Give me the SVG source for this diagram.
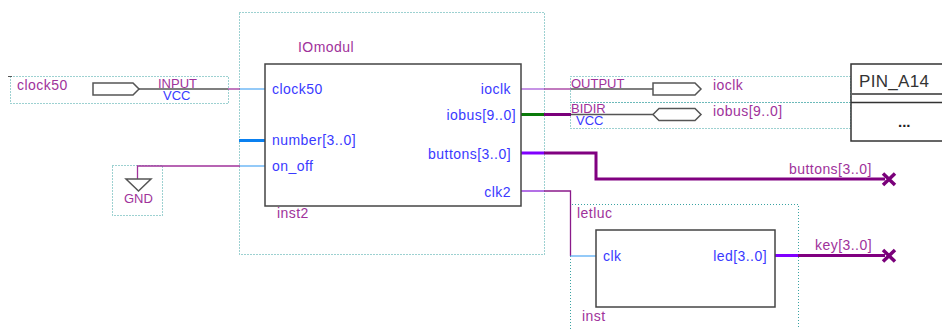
<svg xmlns="http://www.w3.org/2000/svg" width="942" height="329" viewBox="0 0 942 329">
<style>
text{font-family:"Liberation Sans",Arial,sans-serif;font-size:14px;letter-spacing:.45px}
text.c{font-size:13px;letter-spacing:0}
.m{fill:#a0329b}
.b{fill:#3a3aff}
.d{fill:none;stroke:#3aa3a3;stroke-width:1;stroke-dasharray:1 2}
.box{fill:#fff;stroke:#444;stroke-width:1.5}
.sym{fill:#fff;stroke:#555;stroke-width:1.5}
.w{fill:none;stroke-width:1.3}
.bus{fill:none;stroke-width:3}
.x{fill:none;stroke:#7a007a;stroke-width:3.5}
</style>
<rect width="942" height="329" fill="#fff"/>
<g id="frames">
<rect class="d" x="10.500" y="76.500" width="218" height="27"/>
<rect class="d" x="112.500" y="165.500" width="50" height="50"/>
<rect class="d" x="239.500" y="12.500" width="305" height="242"/>
<rect class="d" x="570.500" y="76.500" width="280" height="26"/>
<rect class="d" x="570.500" y="102.500" width="280" height="26"/>
<path class="d" d="M570.500 329V204.500H798.500V329"/>
</g>
<g id="connectors">
<path d="M8 76.500h4" stroke="#555" stroke-width="1" fill="none"/>
<path class="w" stroke="#555" d="M139 89H228"/>
<path class="w" stroke="#a0329b" d="M228 89H240"/>
<path class="w" stroke="#5aaef5" d="M240 89H265"/>
<path class="bus" stroke="#0a80f0" d="M239 140.500H266"/>
<path class="w" stroke="#a0329b" d="M137.500 179V166H240"/>
<path class="w" stroke="#5aaef5" d="M240 166H265"/>
<path class="w" stroke="#a75ad8" d="M519 89H544"/>
<path class="w" stroke="#a0329b" d="M544 89H571"/>
<path class="w" stroke="#555" d="M571 89H653"/>
<path class="bus" stroke="#0a7a0a" d="M519 114.500H544"/>
<path class="bus" stroke="#7a007a" d="M544 114.500H571"/>
<path class="w" stroke="#555" d="M571 114.500H653"/>
<path class="bus" stroke="#8000ff" d="M518 153H544"/>
<path class="bus" stroke="#800080" d="M544 153H596V179H885"/>
<path class="w" stroke="#8a22d8" d="M519 191H544"/>
<path class="w" stroke="#8a1a8a" d="M544 191H570.500V256"/>
<path class="w" stroke="#5aaef5" d="M570.500 256H596"/>
<path class="bus" stroke="#8000ff" d="M773 255.500H798"/>
<path class="bus" stroke="#800080" d="M798 255.500H885"/>
<path class="x" d="M883 173.500L895 185M895 173.500L883 185"/>
<path class="x" d="M883 250L895 261.500M895 250L883 261.500"/>
</g>
<g id="clock50-input">
<path class="sym" d="M93 83H133L139 89L133 95H93Z"/>
<text class="m" x="17" y="90">clock50</text>
<text class="m c" x="158" y="88">INPUT</text>
<text class="b c" x="163" y="100">VCC</text>
</g>
<g id="gnd">
<path class="sym" d="M126 179H151L138.500 191Z"/>
<text class="m c" x="124" y="203">GND</text>
</g>
<g id="inst2">
<rect class="box" x="265" y="64" width="256" height="142"/>
<text class="m" x="298" y="52">IOmodul</text>
<text class="b" x="272" y="94">clock50</text>
<text class="b" x="272" y="145">number[3..0]</text>
<text class="b" x="272" y="171">on_off</text>
<text class="b" x="511" y="94" text-anchor="end">ioclk</text>
<text class="b" x="516" y="120" text-anchor="end">iobus[9..0]</text>
<text class="b" x="511" y="159" text-anchor="end">buttons[3..0]</text>
<text class="b" x="511" y="197" text-anchor="end">clk2</text>
<text class="m" x="277" y="218">inst2</text>
</g>
<g id="ioclk-output">
<path class="sym" d="M653 83H695L701 89L695 95H653Z"/>
<text class="m c" x="571" y="88">OUTPUT</text>
<text class="m" x="713" y="90">ioclk</text>
</g>
<g id="iobus-bidir">
<path class="sym" d="M653 114.500L659 108.500H695L701 114.500L695 120.500H659Z"/>
<text class="m c" x="571" y="113">BIDIR</text>
<text class="b c" x="576" y="125">VCC</text>
<text class="m" x="713" y="116">iobus[9..0]</text>
</g>
<g id="pin-a14">
<rect x="851" y="64" width="100" height="77" fill="#fff" stroke="#333" stroke-width="1.5"/>
<path d="M852 94H942M851 102.500H942" stroke="#333" stroke-width="1.3" fill="none"/>
<text x="859" y="87" fill="#333" style="font-size:17px;letter-spacing:.3px">PIN_A14</text>
<text x="898" y="127" fill="#222" style="font-size:15px;font-weight:bold;letter-spacing:0">...</text>
</g>
<g id="buttons-output">
<text class="m" x="789" y="174">buttons[3..0]</text>
</g>
<g id="inst">
<rect class="box" x="596" y="230" width="179" height="77"/>
<text class="m" x="577" y="218">letluc</text>
<text class="b" x="603" y="261">clk</text>
<text class="b" x="767" y="261" text-anchor="end">led[3..0]</text>
<text class="m" x="582" y="321">inst</text>
</g>
<g id="key-output">
<text class="m" x="815" y="250">key[3..0]</text>
</g>
</svg>
